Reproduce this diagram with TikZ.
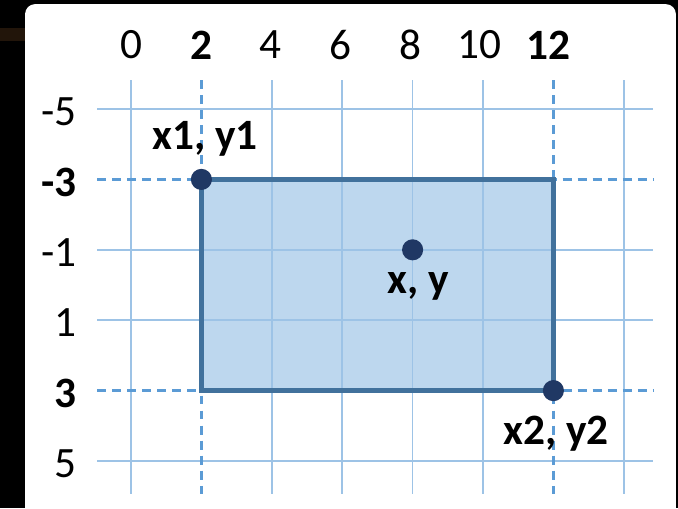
\documentclass[tikz,border=0pt]{standalone}
\usepackage{fontspec}
\setmainfont{Carlito}
\usepackage{xcolor}
\definecolor{gridBlue}{HTML}{9DC3E6}
\definecolor{dashBlue}{HTML}{5B9BD5}
\definecolor{boxFill}{HTML}{BDD7EE}
\definecolor{boxEdge}{HTML}{41719C}
\definecolor{dotNavy}{HTML}{203864}
\definecolor{glowBrown}{HTML}{22150A}

\begin{document}
\begin{tikzpicture}[x=0.7cm, y=-0.7cm, font=\fontsize{24.5}{29}\selectfont,
  gridline/.style={gridBlue, line width=0.85pt},
  dashline/.style={dashBlue, line width=1.3pt, dash pattern=on 5pt off 3.5pt},
  corner/.style={circle, fill=dotNavy, inner sep=0pt, minimum size=0.42cm},
  ticklabel/.style={inner sep=0pt}]
  % background and panel
  \useasboundingbox (-3.722,-8.097) rectangle (15.54,6.335);
  \fill[black] (-3.722,-8.097) rectangle (15.54,6.335);
  \fill[glowBrown] (-3.722,-7.3) rectangle (-3.01,-6.93);
  \fill[white, rounded corners=0.2cm] (-3.01,-7.98) rectangle (15.48,6.8);

  % the box
  \fill[boxFill] (2,-3) rectangle (12,3);

  % grid
  \foreach \gx in {0,4,6,8,10,14}
    \draw[gridline] (\gx,-5.82) -- (\gx,5.94);
  \foreach \gy in {-5,-1,1,5}
    \draw[gridline] (-0.966,\gy) -- (14.83,\gy);
  \foreach \gx in {2,12}
    \draw[dashline] (\gx,-5.82) -- (\gx,5.94);
  \foreach \gy in {-3,3}
    \draw[dashline] (-0.966,\gy) -- (14.83,\gy);

  \draw[boxEdge, line width=2.5pt] (2,-3) rectangle (12,3);

  % axis labels
  \foreach \gx/\txt in {0/0, 3.95/4, 5.94/6, 7.93/8, 9.89/10}
    \node[ticklabel] at (\gx,-6.82) {\txt};
  \node[ticklabel] at (1.99,-6.82) {\bfseries 2};
  \node[ticklabel] at (11.85,-6.82) {\bfseries 12};
  \foreach \gy in {-5,-1,1,5}
    \node[ticklabel, anchor=east] at (-1.53,\gy+0.08) {\gy};
  \node[ticklabel, anchor=east] at (-1.53,-2.92) {\bfseries -3};
  \node[ticklabel, anchor=east] at (-1.53,3.08) {\bfseries 3};

  % points
  \node[corner] (topleft) at (2,-3) {};
  \node[corner] (center) at (8,-1) {};
  \node[corner] (botright) at (12,3) {};
  \node[font=\fontsize{24.5}{29}\selectfont\bfseries] (topleftlabel) at (2.1,-4.15) {x1, y1};
  \node[font=\fontsize{24.5}{29}\selectfont\bfseries] (centerlabel) at (8.15,0.05) {x, y};
  \node[font=\fontsize{24.5}{29}\selectfont\bfseries] (botrightlabel) at (12.07,4.23) {x2, y2};
\end{tikzpicture}
\end{document}
